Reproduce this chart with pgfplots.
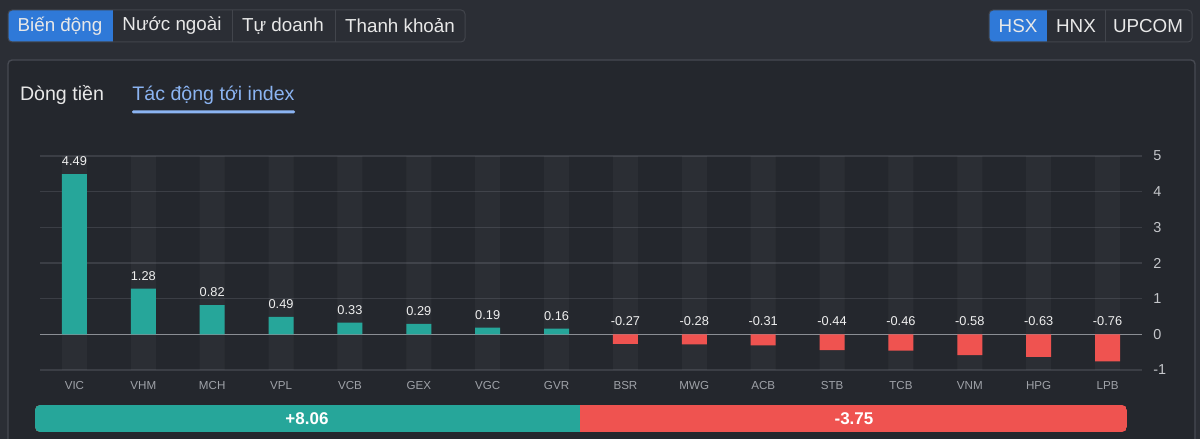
\documentclass[border=0pt]{standalone}
\usepackage{fontspec}
\setmainfont{Liberation Sans}
\usepackage{pgfplots}
\pgfplotsset{compat=1.18}
\usepackage{pgfplotstable}
\definecolor{outerbg}{HTML}{2B2E35}
\definecolor{panelbg}{HTML}{24272D}
\definecolor{panelbd}{HTML}{474A52}
\definecolor{tabbd}{HTML}{42454C}
\definecolor{tabtxt}{HTML}{E8E8E8}
\definecolor{bluebtn}{HTML}{2F79D8}
\definecolor{activetxt}{HTML}{8BB4F2}
\definecolor{gridc}{HTML}{3B3E45}
\definecolor{zeroc}{HTML}{8B8E94}
\definecolor{upc}{HTML}{26A69A}
\definecolor{downc}{HTML}{EF5350}
\definecolor{ylab}{HTML}{C5C7CB}
\definecolor{xlab}{HTML}{9FA2A8}
\definecolor{vlab}{HTML}{F0F0F0}

\pgfplotstableread{
x name v
0 VIC 4.49
1 VHM 1.28
2 MCH 0.82
3 VPL 0.49
4 VCB 0.33
5 GEX 0.29
6 VGC 0.19
7 GVR 0.16
8 BSR -0.27
9 MWG -0.28
10 ACB -0.31
11 STB -0.44
12 TCB -0.46
13 VNM -0.58
14 HPG -0.63
15 LPB -0.76
}\alldata
\pgfplotstableread{
x v
0 4.49
1 1.28
2 0.82
3 0.49
4 0.33
5 0.29
6 0.19
7 0.16
}\posdata
\pgfplotstableread{
x v
8 -0.27
9 -0.28
10 -0.31
11 -0.44
12 -0.46
13 -0.58
14 -0.63
15 -0.76
}\negdata

\begin{document}
\begin{tikzpicture}[x=1pt,y=1pt]
\fill[outerbg] (0,0) rectangle (600,219.5);
\begin{scope}
\clip (0,0) rectangle (600,219.5);
\draw[panelbd, fill=panelbg, line width=0.7pt, rounded corners=2pt] (4,-6) rectangle (597.5,189.5);
\end{scope}
% left tab group
\begin{scope}
\clip[rounded corners=2pt] (4,198.5) rectangle (232.5,214.5);
\fill[bluebtn] (4,198.5) rectangle (56.5,214.5);
\end{scope}
\draw[tabbd, line width=0.5pt, rounded corners=2pt] (4,198.5) rectangle (232.5,214.5);
\draw[tabbd, line width=0.5pt] (116,198.5) -- (116,214.5) (167.5,198.5) -- (167.5,214.5);
\begin{scope}[every node/.style={font=\fontsize{9.4}{11}\selectfont, text=tabtxt, inner sep=0pt}]
\node at (30,206.5) {Biến động};
\node at (86,206.5) {Nước ngoài};
\node at (141.5,206.5) {Tự doanh};
\node at (200,206.5) {Thanh khoản};
\end{scope}
% right tab group
\begin{scope}
\clip[rounded corners=2pt] (494.5,198.5) rectangle (596,214.5);
\fill[bluebtn] (494.5,198.5) rectangle (523.5,214.5);
\end{scope}
\draw[tabbd, line width=0.5pt, rounded corners=2pt] (494.5,198.5) rectangle (596,214.5);
\draw[tabbd, line width=0.5pt] (552.5,198.5) -- (552.5,214.5);
\begin{scope}[every node/.style={font=\fontsize{9.4}{11}\selectfont, text=tabtxt, inner sep=0pt}]
\node at (509,206.5) {HSX};
\node at (538,206.5) {HNX};
\node at (574,206.5) {UPCOM};
\end{scope}
% sub tabs
\node[font=\fontsize{9.8}{11}\selectfont, text=tabtxt, inner sep=0pt] at (31,172) {Dòng tiền};
\node[font=\fontsize{9.8}{11}\selectfont, text=activetxt, inner sep=0pt] at (106.75,172) {Tác động tới index};
\fill[activetxt, rounded corners=0.6pt] (66,162.8) rectangle (147.5,164.3);

\begin{axis}[
  at={(20pt,34.5pt)}, anchor=south west,
  scale only axis, width=551pt, height=107pt,
  xmin=-0.5, xmax=15.5, ymin=-1, ymax=5,
  axis line style={draw=none}, tick style={draw=none},
  ymajorgrids, grid style={color=gridc, line width=0.6pt},
  ytick={-1,0,1,2,3,4,5}, yticklabels={-1,0,1,2,3,4,5},
  yticklabel pos=right,
  yticklabel style={anchor=west, inner sep=0pt, xshift=5.5pt, font=\fontsize{7.2}{8}\selectfont, text=ylab},
  xtick={0,...,15}, xticklabels from table={\alldata}{name},
  xticklabel style={anchor=north, inner sep=0pt, yshift=-5.5pt, font=\fontsize{5.8}{7}\selectfont, text=xlab},
  extra y ticks={0}, extra y tick labels={},
  extra y tick style={grid style={color=zeroc, line width=0.8pt}},
]
\addplot[ybar, bar width=12.5pt, bar shift=0pt, fill=white, fill opacity=0.035, draw=none] table[x=x, y expr=5] {\alldata};
\addplot[ybar, bar width=12.5pt, bar shift=0pt, fill=white, fill opacity=0.035, draw=none] table[x=x, y expr=-1] {\alldata};
\addplot[ybar, bar width=12.5pt, bar shift=0pt, fill=upc, draw=none] table[x=x, y=v] {\posdata};
\addplot[ybar, bar width=12.5pt, bar shift=0pt, fill=downc, draw=none] table[x=x, y=v] {\negdata};
\addplot[only marks, mark=none, nodes near coords, point meta=explicit symbolic,
  every node near coord/.append style={anchor=south, inner sep=0pt, yshift=4pt, font=\fontsize{6.4}{7}\selectfont, text=vlab}]
  table[x=x, y=v, meta=v] {\posdata};
\addplot[only marks, mark=none, nodes near coords, point meta=explicit symbolic,
  every node near coord/.append style={anchor=south, inner sep=0pt, yshift=4pt, font=\fontsize{6.4}{7}\selectfont, text=vlab}]
  table[x=x, y expr=0, meta=v] {\negdata};
\end{axis}

% summary bar
\begin{scope}
\clip[rounded corners=2.5pt] (17.5,3.5) rectangle (563.5,17);
\fill[downc] (17.5,3.5) rectangle (563.5,17);
\fill[upc] (17.5,3.5) rectangle (290,17);
\end{scope}
\node[font=\fontsize{8.5}{10}\selectfont\bfseries, text=white, inner sep=0pt] at (153.5,10.25) {+8.06};
\node[font=\fontsize{8.5}{10}\selectfont\bfseries, text=white, inner sep=0pt] at (427,10.25) {-3.75};
\end{tikzpicture}
\end{document}
